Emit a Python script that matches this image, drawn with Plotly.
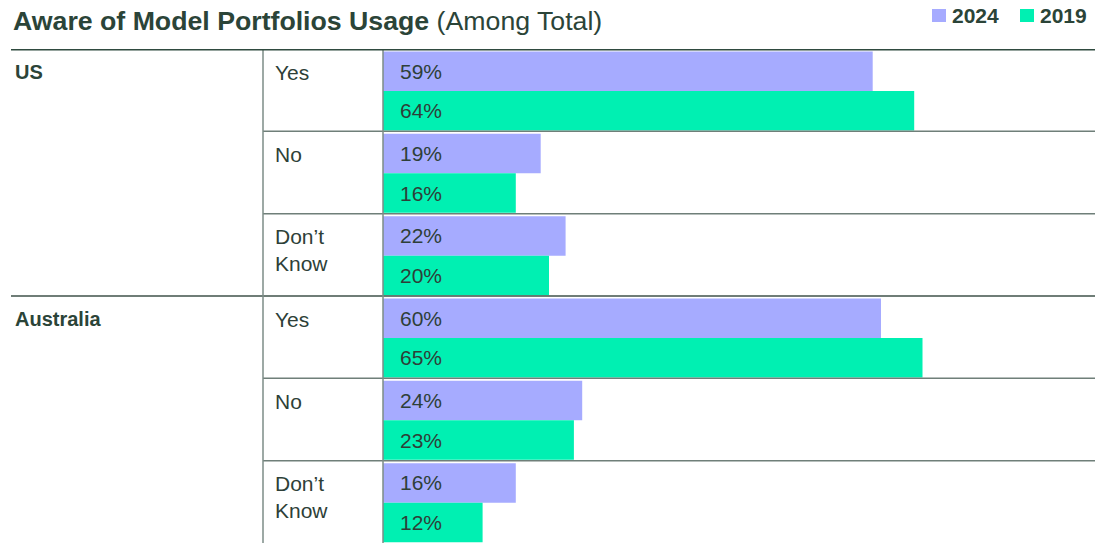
import plotly.graph_objects as go

countries = ["US", "Australia"]
answers = ["Yes", "No", "Don’t<br>Know"]
years = ["2024", "2019"]
values_2024 = [59, 19, 22, 60, 24, 16]
values_2019 = [64, 16, 20, 65, 23, 12]
bar_colors = {"2024": "#a6abff", "2019": "#00f0b2"}

W, H = 1103, 543
OFF = 8  # page body margin
TEXT = "#2e3f38"
DARK = "#2b4438"
FONT = "Liberation Sans, Arial, sans-serif"

def px(x):
    """page pixel x -> paper x"""
    return (x - OFF) / W

def py(y):
    """page pixel y -> paper y"""
    return (H - (y - OFF)) / H

TOP, BOTTOM = 49, 543
LEFT_BAR, RIGHT = 383, 1097
PX_PER_PCT = 8.3

n_groups = len(values_2024)
y24 = [2 * g + 0.54 for g in range(n_groups)]
y19 = [2 * g + 1.50 for g in range(n_groups)]

fig = go.Figure()
fig.add_trace(go.Bar(y=y24, x=values_2024, orientation="h", width=0.96,
                     marker=dict(color=bar_colors["2024"], line=dict(width=0)),
                     name="2024", showlegend=False, hoverinfo="x"))
fig.add_trace(go.Bar(y=y19, x=values_2019, orientation="h", width=0.96,
                     marker=dict(color=bar_colors["2019"], line=dict(width=0)),
                     name="2019", showlegend=False, hoverinfo="x"))

annotations = []
# value labels
for ys, vals in ((y24, values_2024), (y19, values_2019)):
    for y, v in zip(ys, vals):
        annotations.append(dict(x=0, y=y, xref="x", yref="y", text=f"{v}%",
                                xanchor="left", yanchor="middle", xshift=15, yshift=0,
                                showarrow=False,
                                font=dict(family=FONT, size=21, color=TEXT)))
# answer labels
for g in range(n_groups):
    ans = answers[g % len(answers)]
    if "<br>" in ans:
        yv, ys = 2 * g + 1, 5
    else:
        yv, ys = y24[g], -1
    annotations.append(dict(x=px(273), y=yv, xref="paper", yref="y", text=ans,
                            xanchor="left", yanchor="middle", yshift=ys, align="left",
                            showarrow=False,
                            font=dict(family=FONT, size=21, color=TEXT)))
# country labels
for c, country in enumerate(countries):
    annotations.append(dict(x=px(13), y=y24[len(answers) * c], xref="paper", yref="y",
                            text=f"<b>{country}</b>", xanchor="left", yanchor="middle",
                            yshift=-1, showarrow=False,
                            font=dict(family=FONT, size=20, color=DARK)))
# title
annotations.append(dict(x=px(12), y=py(21), xref="paper", yref="paper",
                        text="<b>Aware of Model Portfolios Usage</b> (Among Total)",
                        xanchor="left", yanchor="middle", showarrow=False, borderpad=0,
                        font=dict(family=FONT, size=26.7, color=DARK)))
# legend
legend_pos = {"2024": 932, "2019": 1020}
shapes = []
for yr in years:
    x0 = legend_pos[yr]
    shapes.append(dict(type="rect", xref="paper", yref="paper",
                       x0=px(x0), x1=px(x0 + 14), y0=py(22), y1=py(9),
                       fillcolor=bar_colors[yr], line=dict(width=0)))
    annotations.append(dict(x=px(x0 + 19), y=py(16), xref="paper", yref="paper",
                            text=f"<b>{yr}</b>", xanchor="left", yanchor="middle",
                            showarrow=False, borderpad=0,
                            font=dict(family=FONT, size=21, color=DARK)))

n_rows = 2 * n_groups
# grid lines
for g in range(1, n_groups):
    is_country = g % len(answers) == 0
    shapes.append(dict(type="line", xref="paper", yref="y",
                       x0=px(11 if is_country else 263), x1=px(RIGHT),
                       y0=2 * g, y1=2 * g,
                       line=dict(color="#3f524a" if is_country else "#6f7f79", width=1.5)))
for xv in (263, LEFT_BAR):
    shapes.append(dict(type="line", xref="paper", yref="y", x0=px(xv), x1=px(xv),
                       y0=0, y1=n_rows + 0.5, line=dict(color="#7d8c87", width=1.5)))
shapes.append(dict(type="line", xref="paper", yref="y", x0=px(11), x1=px(RIGHT),
                   y0=0, y1=0, line=dict(color="#2f4a3f", width=3)))

fig.update_layout(
    width=W, height=H,
    margin=dict(l=0, r=0, t=0, b=0),
    paper_bgcolor="white", plot_bgcolor="white",
    barmode="overlay",
    xaxis=dict(domain=[px(LEFT_BAR), px(RIGHT)], range=[0, (RIGHT - LEFT_BAR) / PX_PER_PCT],
               visible=False, fixedrange=True),
    yaxis=dict(domain=[py(BOTTOM), py(TOP)], range=[n_rows, 0], visible=False,
               fixedrange=True),
    annotations=annotations,
    shapes=shapes,
    showlegend=False,
)

fig.write_html("out.html")
